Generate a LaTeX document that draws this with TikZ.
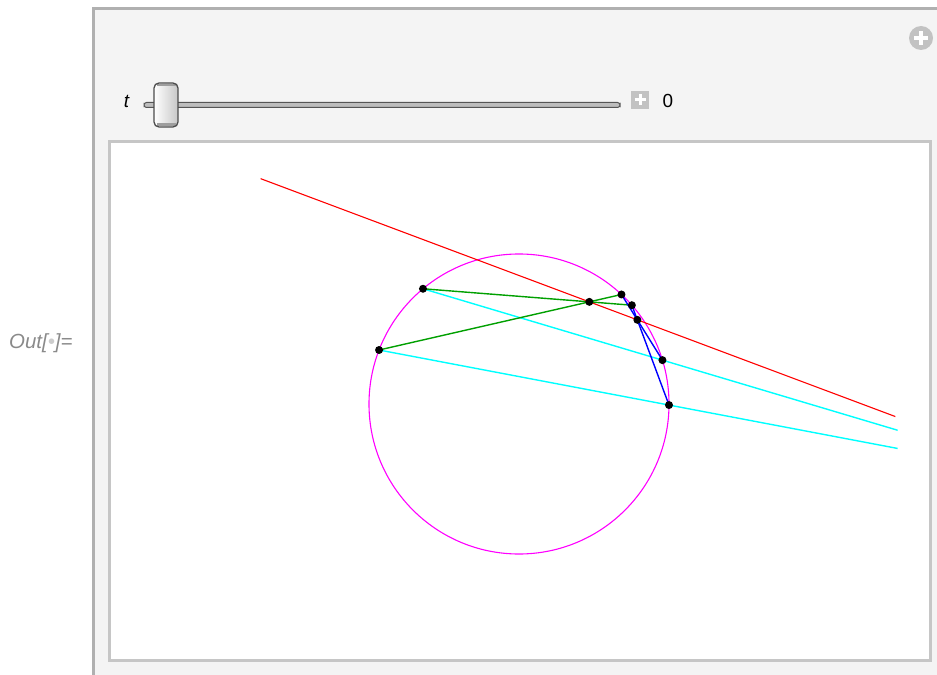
\documentclass[tikz,border=0pt]{standalone}
\usepackage{fontspec}
\setmainfont{Liberation Sans}
\usetikzlibrary{calc}
\definecolor{panelbg}{HTML}{F4F4F4}
\definecolor{panelborder}{HTML}{B0B0B0}
\definecolor{boxborder}{HTML}{C6C6C6}
\definecolor{labelgray}{HTML}{8A8A8A}
\definecolor{dotgray}{HTML}{CCCCCC}
\definecolor{btngray}{HTML}{C2C2C2}
\definecolor{trackfill}{HTML}{BDBDBD}
\definecolor{trackline}{HTML}{555555}
\definecolor{pgreen}{HTML}{00A000}
\definecolor{pred}{HTML}{FF0000}
\definecolor{pcyan}{HTML}{00FFFF}
\definecolor{pmagenta}{HTML}{FF00FF}
\definecolor{pblue}{HTML}{0000FF}
\begin{document}
\begin{tikzpicture}[x=1bp,y=-1bp,
  txt/.style={inner sep=0pt, font=\fontsize{19}{22}\selectfont},
  curve/.style={line width=1.1bp},
  pascal/.style={pred, line width=1.1bp},
  chordc/.style={pcyan, line width=1.4bp},
  chordg/.style={pgreen, line width=1.4bp},
  chordb/.style={pblue, line width=1.4bp},
  pt/.style={fill=black, draw=none},
]
\useasboundingbox (0,0) rectangle (937,675);
% outer panel
\draw[panelborder, fill=panelbg, line width=3bp] (93.5,8.5) rectangle (960,700);
% output label
\node[inner sep=0pt, font=\fontsize{20.5}{24}\selectfont, anchor=west, text=labelgray] (outlbl) at (9,343) {\itshape Out[\textcolor{dotgray}{•}]=};
% top-right button
\node[circle, fill=btngray, minimum size=24bp, inner sep=0pt] (addbtn) at (921,38) {};
\draw[white, line width=4bp] (addbtn.center) ++(-7,0) -- ++(14,0);
\draw[white, line width=4bp] (addbtn.center) ++(0,-7) -- ++(0,14);
% slider
\node[txt, text=black] (tlbl) at (126.5,101) {\itshape t};
\draw[trackline, fill=trackfill, line width=1bp, rounded corners=2.5bp] (144,102.5) rectangle (620,107.5);
\shade[left color=white, right color=black!22, rounded corners=5bp] (154,83) rectangle (178,127);
\fill[black!38] (156.5,83.8) rectangle (175.5,86.5);
\fill[black!38] (156.5,123.5) rectangle (175.5,126.2);
\draw[black!70, line width=1.3bp, rounded corners=5bp] (154,83) rectangle (178,127);
\node[fill=btngray, minimum size=18bp, inner sep=0pt] (stepbtn) at (640,100) {};
\draw[white, line width=3bp] (stepbtn.center) ++(-5.5,0) -- ++(11,0);
\draw[white, line width=3bp] (stepbtn.center) ++(0,-5.5) -- ++(0,11);
\node[txt, text=black] (val) at (668,101) {0};
% plot box
\draw[boxborder, fill=white, line width=3bp] (109.5,141.5) rectangle (930.5,660.5);
% geometry
\coordinate (O) at (519,404);
\coordinate (A) at ($(O)+(-129.8:150)$);
\coordinate (B) at ($(O)+(-158.9:150)$);
\coordinate (D) at ($(O)+(-46.9:150)$);
\coordinate (E) at ($(O)+(-41.2:150)$);
\coordinate (G) at ($(O)+(-17.0:150)$);
\coordinate (H) at ($(O)+(0.4:150)$);
\coordinate (C) at (intersection of A--E and B--D);
\coordinate (F) at (intersection of D--G and E--H);
\draw[pmagenta, curve] (O) circle[radius=150];
\begin{scope}
  \clip (260.7,0) rectangle (895.3,675);
  \draw[pascal] ($(C)!-12!(F)$) -- ($(C)!12!(F)$);
\end{scope}
\begin{scope}
  \clip (0,0) rectangle (897.7,675);
  \draw[chordc] (A) -- ($(A)!3!(G)$);
  \draw[chordc] (B) -- ($(B)!3!(H)$);
\end{scope}
\draw[chordg] (A) -- (E);
\draw[chordg] (B) -- (D);
\draw[chordb] (D) -- (G);
\draw[chordb] (E) -- (H);
\foreach \p in {A,B,C,D,E,F,G,H} \fill[pt] (\p) circle[radius=4];
\end{tikzpicture}
\end{document}
